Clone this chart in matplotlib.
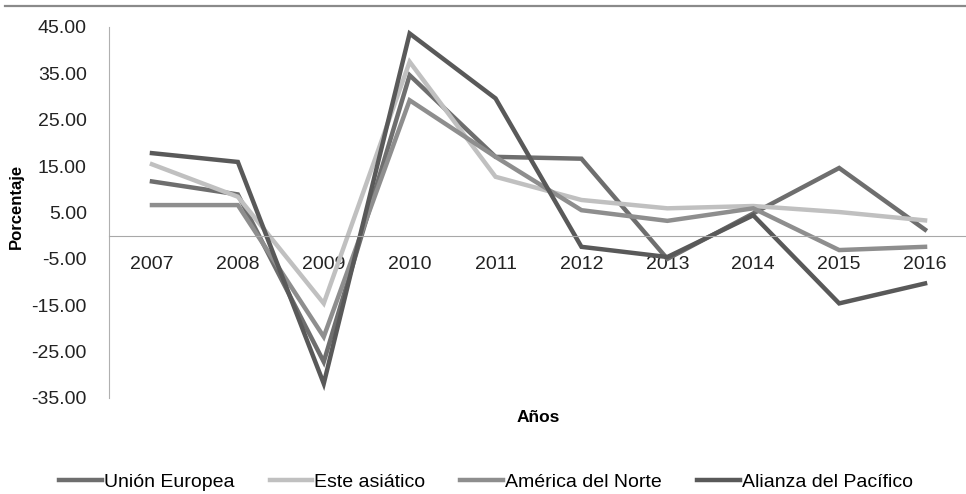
import matplotlib
matplotlib.use('Agg')
import matplotlib.pyplot as plt
from matplotlib.lines import Line2D
from matplotlib.ticker import FixedLocator

plt.rcParams['font.family'] = ['Liberation Sans', 'DejaVu Sans']

years = ['2007', '2008', '2009', '2010', '2011', '2012', '2013', '2014', '2015', '2016']
union_europea = [11.7, 8.9, -27.2, 34.6, 17.0, 16.6, -5.0, 4.8, 14.6, 1.3]
este_asiatico = [15.4, 8.4, -14.6, 37.5, 12.7, 7.7, 5.9, 6.4, 5.1, 3.3]
america_norte = [6.6, 6.6, -21.8, 29.2, 17.0, 5.5, 3.2, 5.9, -3.1, -2.4]
alianza_pacifico = [17.8, 15.9, -31.9, 43.6, 29.6, -2.4, -4.6, 4.4, -14.6, -10.3]

series = [
    ('Unión Europea', union_europea, '#6e6e6e'),
    ('Este asiático', este_asiatico, '#c0c0c0'),
    ('América del Norte', america_norte, '#8e8e8e'),
    ('Alianza del Pacífico', alianza_pacifico, '#595959'),
]
y_ticks = [45, 35, 25, 15, 5, -5, -15, -25, -35]

fig = plt.figure(figsize=(9.66, 4.94), dpi=100)
ax = fig.add_axes([109/966, 96/494, 859/966, 371/494])

x = list(range(len(years)))
for name, vals, col in series:
    ax.plot(x, vals, color=col, lw=3.2, label=name, solid_joinstyle='miter')

ax.set_xlim(-0.5, len(years) - 0.5)
ax.set_ylim(-35, 45)
ax.yaxis.set_major_locator(FixedLocator(y_ticks))
ax.set_yticklabels(['%.2f' % v for v in y_ticks])
ax.set_xticks(x)
ax.set_xticklabels(years)

# eje x en cero
ax.spines['bottom'].set_position(('data', 0))
ax.spines['bottom'].set_color('#a8a8a8')
ax.spines['left'].set_color('#b0b0b0')
ax.spines['top'].set_visible(False)
ax.spines['right'].set_visible(False)
ax.tick_params(axis='x', length=0, pad=14.5, labelsize=14, labelcolor='#222222')
ax.tick_params(axis='y', length=0, pad=16, labelsize=14, labelcolor='#222222')

fig.text(16/966, 1 - 206/494, 'Porcentaje', rotation=90, fontsize=12, fontweight='bold',
         ha='center', va='center')
fig.text(538/966, 1 - 417/494, 'Años', fontsize=12.5, fontweight='bold',
         ha='center', va='center')

# línea superior
fig.add_artist(Line2D([5/966, 1], [1 - 6/494, 1 - 6/494], color='#8a8a8a', lw=1.6))

fig.legend(loc='center', bbox_to_anchor=(486/966, 1 - 482/494), ncol=4, frameon=False,
           fontsize=14, handlelength=2.2, handletextpad=0.1, columnspacing=1.8)

fig.savefig('out.png', dpi=100)
